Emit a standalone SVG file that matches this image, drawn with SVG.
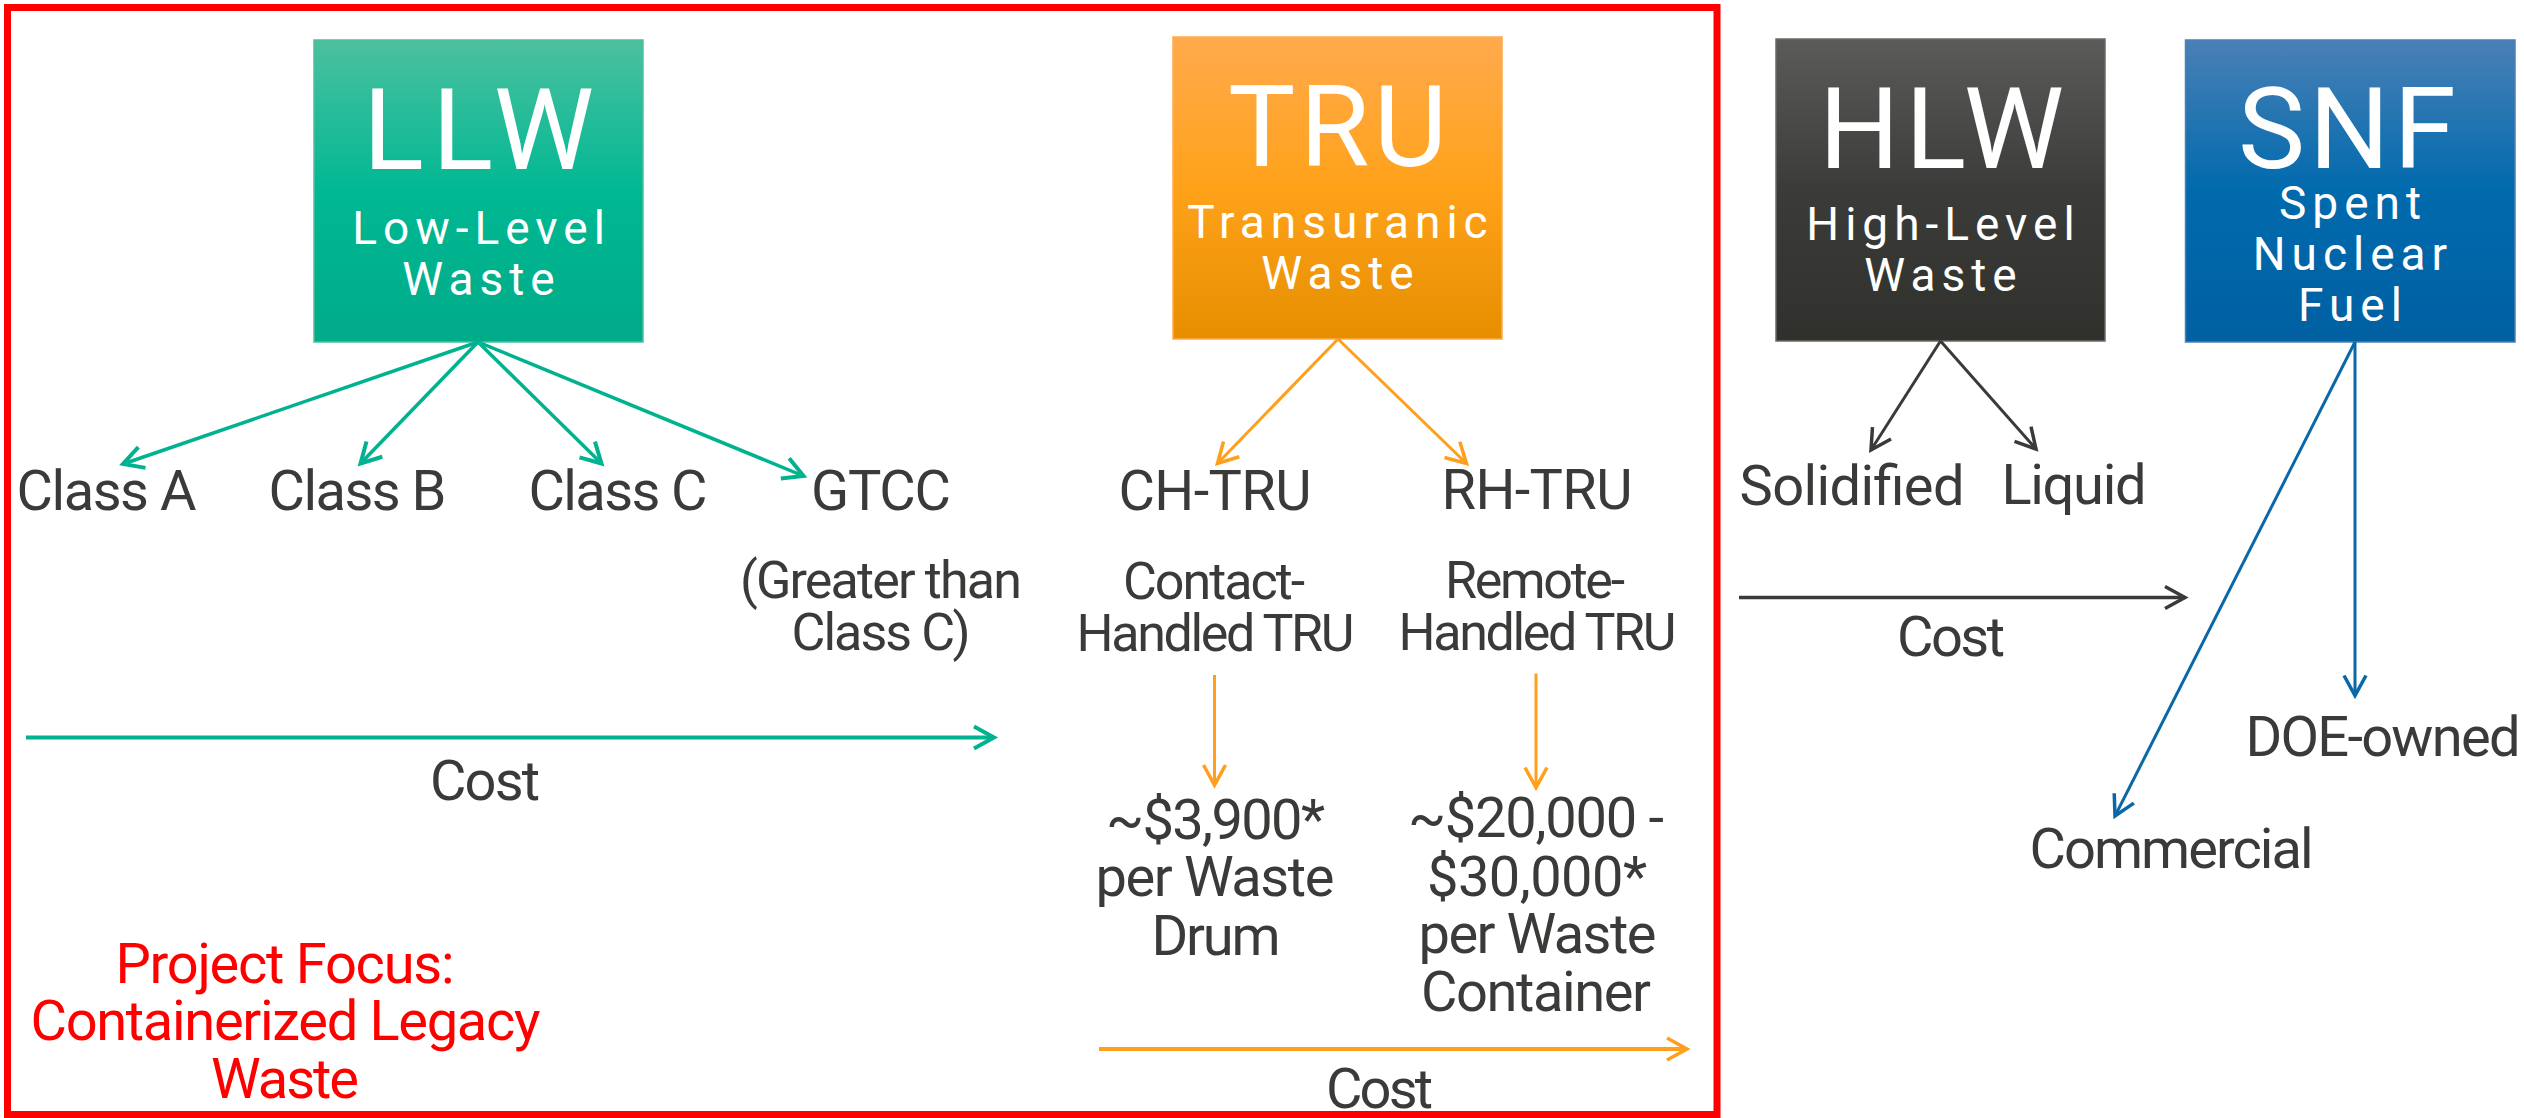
<svg xmlns="http://www.w3.org/2000/svg" width="2524" height="1118" viewBox="0 0 2524 1118">
  <defs>
    <linearGradient id="gLLW" x1="0" y1="0" x2="0" y2="1">
      <stop offset="0" stop-color="#4cc09f"/>
      <stop offset="0.5" stop-color="#00b893"/>
      <stop offset="1" stop-color="#00ab89"/>
    </linearGradient>
    <linearGradient id="gTRU" x1="0" y1="0" x2="0" y2="1">
      <stop offset="0" stop-color="#ffaa4d"/>
      <stop offset="0.5" stop-color="#ffa21a"/>
      <stop offset="1" stop-color="#e68e00"/>
    </linearGradient>
    <linearGradient id="gHLW" x1="0" y1="0" x2="0" y2="1">
      <stop offset="0" stop-color="#5b5c59"/>
      <stop offset="0.5" stop-color="#3b3c39"/>
      <stop offset="1" stop-color="#30312d"/>
    </linearGradient>
    <linearGradient id="gSNF" x1="0" y1="0" x2="0" y2="1">
      <stop offset="0" stop-color="#4a80b6"/>
      <stop offset="0.5" stop-color="#006aad"/>
      <stop offset="1" stop-color="#0060a2"/>
    </linearGradient>
    <marker id="mGreen" markerUnits="userSpaceOnUse" markerWidth="40" markerHeight="40" viewBox="-30 -20 40 40" refX="0" refY="0" orient="auto" overflow="visible">
      <path d="M-20,-11 L0,0 L-20,11" fill="none" stroke="#00b28f" stroke-width="4"/>
    </marker>
    <marker id="mOrange" markerUnits="userSpaceOnUse" markerWidth="40" markerHeight="40" viewBox="-30 -20 40 40" refX="0" refY="0" orient="auto" overflow="visible">
      <path d="M-20,-11 L0,0 L-20,11" fill="none" stroke="#ff9f1c" stroke-width="3.5"/>
    </marker>
    <marker id="mDark" markerUnits="userSpaceOnUse" markerWidth="40" markerHeight="40" viewBox="-30 -20 40 40" refX="0" refY="0" orient="auto" overflow="visible">
      <path d="M-20,-11 L0,0 L-20,11" fill="none" stroke="#3a3b38" stroke-width="3.5"/>
    </marker>
    <marker id="mBlue" markerUnits="userSpaceOnUse" markerWidth="40" markerHeight="40" viewBox="-30 -20 40 40" refX="0" refY="0" orient="auto" overflow="visible">
      <path d="M-20,-11 L0,0 L-20,11" fill="none" stroke="#0a68a8" stroke-width="3.5"/>
    </marker>
  </defs>
  <style>
    text { font-family: Roboto, "Liberation Sans", sans-serif; text-anchor: middle; }
    .title { font-size: 113px; fill: #ffffff; }
    .sub { font-size: 46px; fill: #ffffff; letter-spacing: 6px; }
    .lbl { font-size: 56px; fill: #3a3b38; }
    .note { font-size: 52px; fill: #3a3b38; }
    .focus { font-size: 56px; fill: #ff0000; }
    .green { stroke: #00b28f; fill: none; marker-end: url(#mGreen); }
    .orange { stroke: #ff9f1c; fill: none; marker-end: url(#mOrange); }
    .dark { stroke: #3a3b38; fill: none; marker-end: url(#mDark); }
    .blue { stroke: #0a68a8; fill: none; marker-end: url(#mBlue); }
  </style>

  <rect width="2524" height="1118" fill="#ffffff"/>

  <!-- scope frame -->
  <rect id="focus-frame" x="7.5" y="7.5" width="1709.5" height="1107" fill="none" stroke="#ff0000" stroke-width="7"/>

  <!-- waste category boxes -->
  <g id="llw">
    <rect x="314" y="40" width="329" height="302" fill="url(#gLLW)" stroke="#4cc09f" stroke-width="1.5"/>
    <text class="title" x="478.5" y="169" textLength="231" lengthAdjust="spacing">LLW</text>
    <text class="sub" x="481.5" y="244">Low-Level</text>
    <text class="sub" x="481.5" y="295">Waste</text>
  </g>
  <g id="tru">
    <rect x="1173" y="37" width="329" height="302" fill="url(#gTRU)" stroke="#ffaa4d" stroke-width="1.5"/>
    <text class="title" x="1337.5" y="166" textLength="219" lengthAdjust="spacing">TRU</text>
    <text class="sub" x="1340.5" y="237.5">Transuranic</text>
    <text class="sub" x="1340.5" y="288.5">Waste</text>
  </g>
  <g id="hlw">
    <rect x="1776" y="39" width="329" height="302" fill="url(#gHLW)" stroke="#6a6b68" stroke-width="1.5"/>
    <text class="title" x="1941.5" y="168" textLength="245" lengthAdjust="spacing">HLW</text>
    <text class="sub" x="1943.5" y="240">High-Level</text>
    <text class="sub" x="1943.5" y="291">Waste</text>
  </g>
  <g id="snf">
    <rect x="2185.5" y="40" width="329.5" height="302" fill="url(#gSNF)" stroke="#4a80b6" stroke-width="1.5"/>
    <text class="title" x="2347" y="168" textLength="218" lengthAdjust="spacing">SNF</text>
    <text class="sub" x="2353" y="218.5">Spent</text>
    <text class="sub" x="2353" y="269.5">Nuclear</text>
    <text class="sub" x="2353" y="321">Fuel</text>
  </g>

  <!-- sub-category labels -->
  <g id="class-a"><text class="lbl" x="106.5" y="510" textLength="180" lengthAdjust="spacing">Class A</text></g>
  <g id="class-b"><text class="lbl" x="357.5" y="510" textLength="178" lengthAdjust="spacing">Class B</text></g>
  <g id="class-c"><text class="lbl" x="618" y="510" textLength="179" lengthAdjust="spacing">Class C</text></g>
  <g id="gtcc">
    <text class="lbl" x="881" y="510" textLength="140" lengthAdjust="spacing">GTCC</text>
    <text class="note" x="881" y="598" textLength="282" lengthAdjust="spacing">(Greater than</text>
    <text class="note" x="881" y="649.5" textLength="179" lengthAdjust="spacing">Class C)</text>
  </g>
  <g id="ch-tru">
    <text class="lbl" x="1215" y="510" textLength="193" lengthAdjust="spacing">CH-TRU</text>
    <text class="note" x="1214" y="599" textLength="182" lengthAdjust="spacing">Contact-</text>
    <text class="note" x="1215.5" y="651" textLength="278" lengthAdjust="spacing">Handled TRU</text>
  </g>
  <g id="rh-tru">
    <text class="lbl" x="1537" y="509" textLength="191" lengthAdjust="spacing">RH-TRU</text>
    <text class="note" x="1535" y="597.5" textLength="180" lengthAdjust="spacing">Remote-</text>
    <text class="note" x="1537.5" y="649.5" textLength="278" lengthAdjust="spacing">Handled TRU</text>
  </g>
  <g id="ch-cost">
    <text class="lbl" x="1215.5" y="838.5" textLength="219" lengthAdjust="spacing">~$3,900*</text>
    <text class="lbl" x="1215" y="896" textLength="239" lengthAdjust="spacing">per Waste</text>
    <text class="lbl" x="1216" y="954.5" textLength="129" lengthAdjust="spacing">Drum</text>
  </g>
  <g id="rh-cost">
    <text class="lbl" x="1536" y="837" textLength="256" lengthAdjust="spacing">~$20,000 -</text>
    <text class="lbl" x="1537" y="895.5" textLength="220" lengthAdjust="spacing">$30,000*</text>
    <text class="lbl" x="1537.5" y="953" textLength="238" lengthAdjust="spacing">per Waste</text>
    <text class="lbl" x="1536" y="1011" textLength="230" lengthAdjust="spacing">Container</text>
  </g>
  <g id="solidified"><text class="lbl" x="1852" y="505" textLength="225" lengthAdjust="spacing">Solidified</text></g>
  <g id="liquid"><text class="lbl" x="2074" y="504" textLength="145" lengthAdjust="spacing">Liquid</text></g>
  <g id="doe-owned"><text class="lbl" x="2383" y="756" textLength="275" lengthAdjust="spacing">DOE-owned</text></g>
  <g id="commercial"><text class="lbl" x="2171.5" y="868" textLength="284" lengthAdjust="spacing">Commercial</text></g>

  <!-- cost axis labels -->
  <g id="cost-llw"><text class="lbl" x="485" y="800" textLength="110" lengthAdjust="spacing">Cost</text></g>
  <g id="cost-tru"><text class="lbl" x="1379.5" y="1108" textLength="107" lengthAdjust="spacing">Cost</text></g>
  <g id="cost-hlw"><text class="lbl" x="1951" y="656" textLength="108" lengthAdjust="spacing">Cost</text></g>

  <g id="project-focus">
    <text class="focus" x="285" y="983" textLength="339" lengthAdjust="spacing">Project Focus:</text>
    <text class="focus" x="285.5" y="1040" textLength="510" lengthAdjust="spacing">Containerized Legacy</text>
    <text class="focus" x="285" y="1097.5" textLength="148" lengthAdjust="spacing">Waste</text>
  </g>

  <!-- connectors -->
  <g id="connectors">
    <line class="green" x1="478" y1="342" x2="123" y2="464" stroke-width="3.5"/>
    <line class="green" x1="478" y1="342" x2="360.5" y2="463.5" stroke-width="3.5"/>
    <line class="green" x1="478" y1="342" x2="601.5" y2="463.5" stroke-width="3.5"/>
    <line class="green" x1="478" y1="342" x2="803.5" y2="476" stroke-width="3.5"/>
    <line class="green" x1="26" y1="737.5" x2="994" y2="737.5" stroke-width="4"/>

    <line class="orange" x1="1338" y1="339" x2="1217.5" y2="463.5" stroke-width="3"/>
    <line class="orange" x1="1338" y1="339" x2="1466.5" y2="463.5" stroke-width="3"/>
    <line class="orange" x1="1214.5" y1="675" x2="1214.5" y2="785" stroke-width="3"/>
    <line class="orange" x1="1536" y1="673.5" x2="1536" y2="787.5" stroke-width="3"/>
    <line class="orange" x1="1099" y1="1049" x2="1687" y2="1049" stroke-width="4"/>

    <line class="dark" x1="1940.5" y1="341" x2="1871" y2="450" stroke-width="3"/>
    <line class="dark" x1="1940.5" y1="341" x2="2036" y2="449" stroke-width="3"/>
    <line class="dark" x1="1739" y1="597.5" x2="2185" y2="597.5" stroke-width="3.5"/>

    <line class="blue" x1="2355" y1="342" x2="2355" y2="695.5" stroke-width="3"/>
    <line class="blue" x1="2355" y1="342" x2="2115" y2="816" stroke-width="3"/>
  </g>
</svg>
